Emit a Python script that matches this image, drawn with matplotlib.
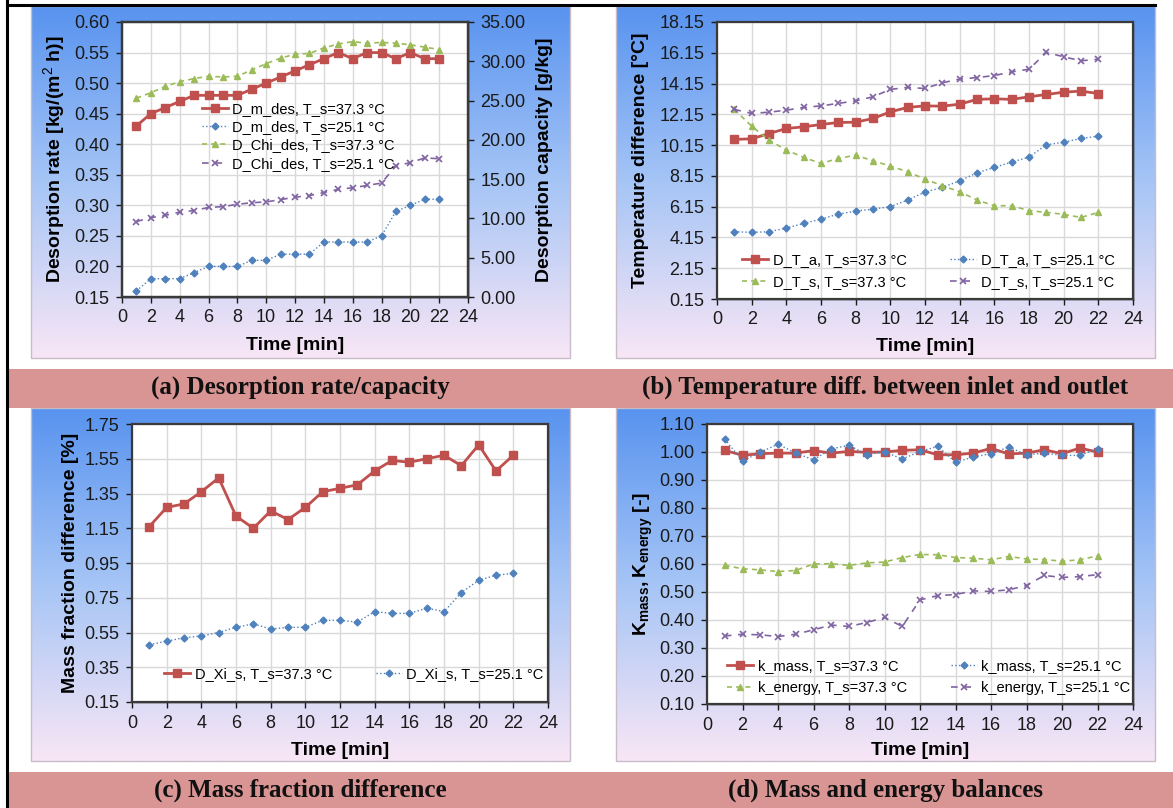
import numpy as np
import matplotlib
matplotlib.use("Agg")
import matplotlib.pyplot as plt
from matplotlib.patches import Rectangle
from matplotlib.colors import LinearSegmentedColormap
from matplotlib.ticker import FormatStrFormatter

plt.rcParams["font.family"] = ["Liberation Sans", "DejaVu Sans"]
plt.rcParams["mathtext.fontset"] = "custom"
plt.rcParams["mathtext.rm"] = "Liberation Sans"
plt.rcParams["mathtext.bf"] = "Liberation Sans:bold"

W, H = 1173, 808

# ---- data ----
time_min = list(range(1, 23))

# (a) desorption rate [kg/(m2 h)] and capacity [g/kg]
m_des_373 = [0.43, 0.45, 0.46, 0.47, 0.48, 0.48, 0.48, 0.48, 0.49, 0.50, 0.51,
             0.52, 0.53, 0.54, 0.55, 0.54, 0.55, 0.55, 0.54, 0.55, 0.54, 0.54]
m_des_251 = [0.16, 0.18, 0.18, 0.18, 0.19, 0.20, 0.20, 0.20, 0.21, 0.21, 0.22,
             0.22, 0.22, 0.24, 0.24, 0.24, 0.24, 0.25, 0.29, 0.30, 0.31, 0.31]
chi_des_373 = [25.3, 26.0, 26.8, 27.4, 27.8, 28.1, 28.0, 28.1, 28.9, 29.7, 30.4,
               30.9, 31.0, 31.7, 32.2, 32.5, 32.3, 32.4, 32.3, 32.1, 31.8, 31.5]
chi_des_251 = [9.6, 10.1, 10.4, 10.8, 11.0, 11.4, 11.5, 11.8, 12.0, 12.1, 12.4,
               12.7, 12.9, 13.3, 13.7, 13.9, 14.2, 14.5, 16.7, 17.1, 17.7, 17.6]

# (b) temperature difference [C]
dta_373 = [10.52, 10.56, 10.90, 11.23, 11.34, 11.49, 11.62, 11.64, 11.88, 12.31, 12.60,
           12.70, 12.68, 12.81, 13.12, 13.16, 13.12, 13.29, 13.44, 13.59, 13.66, 13.50]
dta_251 = [4.52, 4.48, 4.52, 4.76, 5.06, 5.34, 5.67, 5.86, 5.99, 6.15, 6.58,
           7.10, 7.40, 7.83, 8.35, 8.70, 9.05, 9.37, 10.17, 10.34, 10.58, 10.73]
dts_373 = [12.47, 11.38, 10.47, 9.83, 9.35, 8.96, 9.28, 9.50, 9.13, 8.79, 8.42,
           7.94, 7.51, 7.12, 6.58, 6.21, 6.21, 5.89, 5.78, 5.65, 5.45, 5.78]
dts_251 = [12.47, 12.21, 12.29, 12.42, 12.60, 12.70, 12.86, 13.03, 13.29, 13.77, 13.90,
           13.83, 14.20, 14.44, 14.54, 14.67, 14.91, 15.08, 16.17, 15.89, 15.63, 15.73]

# (c) mass fraction difference [%]
dxi_373 = [1.16, 1.27, 1.29, 1.36, 1.44, 1.22, 1.15, 1.25, 1.20, 1.27, 1.36,
           1.38, 1.40, 1.48, 1.54, 1.53, 1.55, 1.57, 1.51, 1.63, 1.48, 1.57]
dxi_251 = [0.48, 0.50, 0.52, 0.53, 0.55, 0.58, 0.60, 0.57, 0.58, 0.58, 0.62,
           0.62, 0.61, 0.67, 0.66, 0.66, 0.69, 0.67, 0.78, 0.85, 0.88, 0.89]

# (d) mass and energy balances [-]
k_mass_373 = [1.006, 0.988, 0.994, 0.996, 0.996, 1.005, 0.996, 1.002, 0.999, 1.000, 1.006,
              1.008, 0.990, 0.990, 0.996, 1.013, 0.993, 0.996, 1.008, 0.994, 1.014, 1.000]
k_mass_251 = [1.046, 0.968, 0.999, 1.028, 0.996, 0.972, 1.011, 1.024, 0.990, 1.001, 0.975,
              1.002, 1.020, 0.963, 0.982, 0.994, 1.018, 0.990, 0.996, 0.988, 0.988, 1.011]
k_energy_373 = [0.595, 0.583, 0.579, 0.573, 0.577, 0.600, 0.601, 0.595, 0.604, 0.607, 0.623,
                0.634, 0.633, 0.623, 0.621, 0.615, 0.627, 0.618, 0.616, 0.610, 0.615, 0.629]
k_energy_251 = [0.343, 0.349, 0.347, 0.341, 0.349, 0.365, 0.382, 0.377, 0.391, 0.409, 0.377,
                0.472, 0.487, 0.491, 0.504, 0.502, 0.508, 0.523, 0.559, 0.552, 0.555, 0.562]

captions = ["(a) Desorption rate/capacity",
            "(b) Temperature diff. between inlet and outlet",
            "(c) Mass fraction difference",
            "(d) Mass and energy balances"]

# ---- styles ----
RED, BLUE, GREEN, PURPLE = "#c0504d", "#4f81bd", "#9bbb59", "#8064a2"
STYLE = {
    "red": dict(color=RED, lw=2.0, ls="-", marker="s", ms=5.5),
    "blue": dict(color=BLUE, lw=1.0, ls=":", marker="D", ms=3.5),
    "green": dict(color=GREEN, lw=1.2, ls=(0, (3, 2.5)), marker="^", ms=5),
    "purple": dict(color=PURPLE, lw=1.2, ls=(0, (4, 4)), marker="x", ms=4.5, mew=1.2),
}
TICK_FS = 13
LABEL_FS = 14
LEG_FS = 10.5


def px_axes(fig, left, top, right, bottom):
    return fig.add_axes([left / W, 1 - bottom / H, (right - left) / W, (bottom - top) / H])


def style_axes(ax, yticks, fmt):
    ax.set_facecolor("white")
    ax.set_xlim(0, 24)
    ax.set_xticks(range(0, 25, 2))
    ax.set_ylim(yticks[0], yticks[-1])
    ax.set_yticks(yticks)
    ax.yaxis.set_major_formatter(FormatStrFormatter(fmt))
    ax.grid(True, color="#d9d9d9", lw=1)
    ax.set_axisbelow(True)
    for s in ax.spines.values():
        s.set_color("#3a3a3a")
        s.set_linewidth(1.6)
    ax.tick_params(labelsize=TICK_FS, colors="#1a1a1a", length=4, width=1, pad=5)
    ax.set_xlabel("Time [min]", fontsize=LABEL_FS, fontweight="bold")


fig = plt.figure(figsize=(W / 100, H / 100), dpi=100)
fig.patch.set_facecolor("white")

# background layer in pixel coordinates
bg = fig.add_axes([0, 0, 1, 1], zorder=-10)
grad = np.linspace(0, 1, 256).reshape(-1, 1)
bg_cmap = LinearSegmentedColormap.from_list("bg", ["#5893ef", "#a6c5f6", "#f8e6f5"])
boxes = [(31, 6, 570, 358), (616, 6, 1155, 358), (31, 408, 570, 761), (616, 408, 1155, 761)]
for l, t, r, b in boxes:
    bg.imshow(grad, cmap=bg_cmap, extent=(l, r, b, t), aspect="auto")
    bg.add_patch(Rectangle((l, t), r - l, b - t, fill=False, ec="#c8bcc8", lw=1))
for t, b in [(369, 408), (772, 808)]:
    bg.add_patch(Rectangle((9, t), W - 9, b - t, color="#d99594", lw=0))
bg.plot([7, 7], [0, H], color="black", lw=2.2)
bg.plot([7, 1155], [5, 5], color="black", lw=2.2)
for (cx, cy), txt in zip([(300, 387), (885, 387), (300, 790), (885, 790)], captions):
    bg.text(cx, cy, txt, ha="center", va="center", fontsize=18, fontweight="bold",
            family=["Liberation Serif", "DejaVu Serif"], color="#111111")
# plot-area shadows
for l, t, r, b in [(122, 22, 468, 297), (717, 22, 1133, 299), (132, 424, 548, 702), (707, 424, 1133, 704)]:
    bg.add_patch(Rectangle((l + 2, t + 2), r - l, b - t, color="#555555", alpha=0.35, lw=0))
bg.set_xlim(0, W)
bg.set_ylim(H, 0)
bg.axis("off")

# ---- (a) ----
ax = px_axes(fig, 122, 22, 468, 297)
style_axes(ax, np.arange(0.15, 0.601, 0.05), "%.2f")
ax2 = ax.twinx()
ax2.set_ylim(0, 35)
ax2.set_yticks(np.arange(0, 35.1, 5))
ax2.yaxis.set_major_formatter(FormatStrFormatter("%.2f"))
ax2.tick_params(labelsize=TICK_FS, colors="#1a1a1a", length=4, width=1, pad=5)
for s in ax2.spines.values():
    s.set_color("#3a3a3a")
    s.set_linewidth(1.6)
h1, = ax.plot(time_min, m_des_373, **STYLE["red"])
h2, = ax.plot(time_min, m_des_251, **STYLE["blue"])
h3, = ax2.plot(time_min, chi_des_373, **STYLE["green"])
h4, = ax2.plot(time_min, chi_des_251, **STYLE["purple"])
ax.set_ylabel("Desorption rate [kg/(m$^2$ h)]", fontsize=LABEL_FS, fontweight="bold")
ax2.set_ylabel("Desorption capacity [g/kg]", fontsize=LABEL_FS, fontweight="bold")
ax.yaxis.set_label_coords(-0.156, 0.5)
ax2.yaxis.set_label_coords(1.197, 0.5)
ax.xaxis.set_label_coords(0.5, -0.145)
ax2.legend([h1, h2, h3, h4],
           ["D_m_des, T_s=37.3 °C", "D_m_des, T_s=25.1 °C",
            "D_Chi_des, T_s=37.3 °C", "D_Chi_des, T_s=25.1 °C"],
           loc="upper left", bbox_to_anchor=(0.23, 0.71), frameon=False,
           fontsize=LEG_FS, borderpad=0, borderaxespad=0, labelspacing=0.3,
           handlelength=1.8, handletextpad=0.3)

# ---- (b) ----
ax = px_axes(fig, 717, 22, 1133, 299)
style_axes(ax, np.arange(0.15, 18.16, 2), "%.2f")
h1, = ax.plot(time_min, dta_373, **STYLE["red"])
h2, = ax.plot(time_min, dta_251, **STYLE["blue"])
h3, = ax.plot(time_min, dts_373, **STYLE["green"])
h4, = ax.plot(time_min, dts_251, **STYLE["purple"])
ax.set_ylabel("Temperature difference [°C]", fontsize=LABEL_FS, fontweight="bold")
ax.yaxis.set_label_coords(-0.163, 0.5)
ax.xaxis.set_label_coords(0.5, -0.141)
ax.legend([h1, h3, h2, h4],
          ["D_T_a, T_s=37.3 °C", "D_T_s, T_s=37.3 °C",
           "D_T_a, T_s=25.1 °C", "D_T_s, T_s=25.1 °C"],
          ncol=2, loc="upper left", bbox_to_anchor=(0.06, 0.165), frameon=False,
          fontsize=LEG_FS, borderpad=0, borderaxespad=0, labelspacing=0.55,
          handlelength=1.8, handletextpad=0.3, columnspacing=3.0)

# ---- (c) ----
ax = px_axes(fig, 132, 424, 548, 702)
style_axes(ax, np.arange(0.15, 1.751, 0.2), "%.2f")
h1, = ax.plot(time_min, dxi_373, **STYLE["red"])
h2, = ax.plot(time_min, dxi_251, **STYLE["blue"])
ax.set_ylabel("Mass fraction difference [%]", fontsize=LABEL_FS, fontweight="bold")
ax.yaxis.set_label_coords(-0.127, 0.5)
ax.xaxis.set_label_coords(0.5, -0.144)
ax.legend([h1, h2], ["D_Xi_s, T_s=37.3 °C", "D_Xi_s, T_s=25.1 °C"],
          ncol=2, loc="upper left", bbox_to_anchor=(0.077, 0.125), frameon=False,
          fontsize=LEG_FS, borderpad=0, borderaxespad=0,
          handlelength=1.8, handletextpad=0.3, columnspacing=3.0)

# ---- (d) ----
ax = px_axes(fig, 707, 424, 1133, 704)
style_axes(ax, np.arange(0.10, 1.101, 0.1), "%.2f")
h1, = ax.plot(time_min, k_mass_373, **STYLE["red"])
h2, = ax.plot(time_min, k_mass_251, **STYLE["blue"])
h3, = ax.plot(time_min, k_energy_373, **STYLE["green"])
h4, = ax.plot(time_min, k_energy_251, **STYLE["purple"])
ax.set_ylabel(r"$\mathbf{K_{mass}, K_{energy}}$ [-]", fontsize=LABEL_FS, fontweight="bold")
ax.yaxis.set_label_coords(-0.122, 0.5)
ax.xaxis.set_label_coords(0.5, -0.136)
ax.legend([h1, h3, h2, h4],
          ["k_mass, T_s=37.3 °C", "k_energy, T_s=37.3 °C",
           "k_mass, T_s=25.1 °C", "k_energy, T_s=25.1 °C"],
          ncol=2, loc="upper left", bbox_to_anchor=(0.047, 0.16), frameon=False,
          fontsize=LEG_FS, borderpad=0, borderaxespad=0, labelspacing=0.55,
          handlelength=1.8, handletextpad=0.3, columnspacing=3.0)

fig.savefig("out.png", dpi=100)
plt.close(fig)
